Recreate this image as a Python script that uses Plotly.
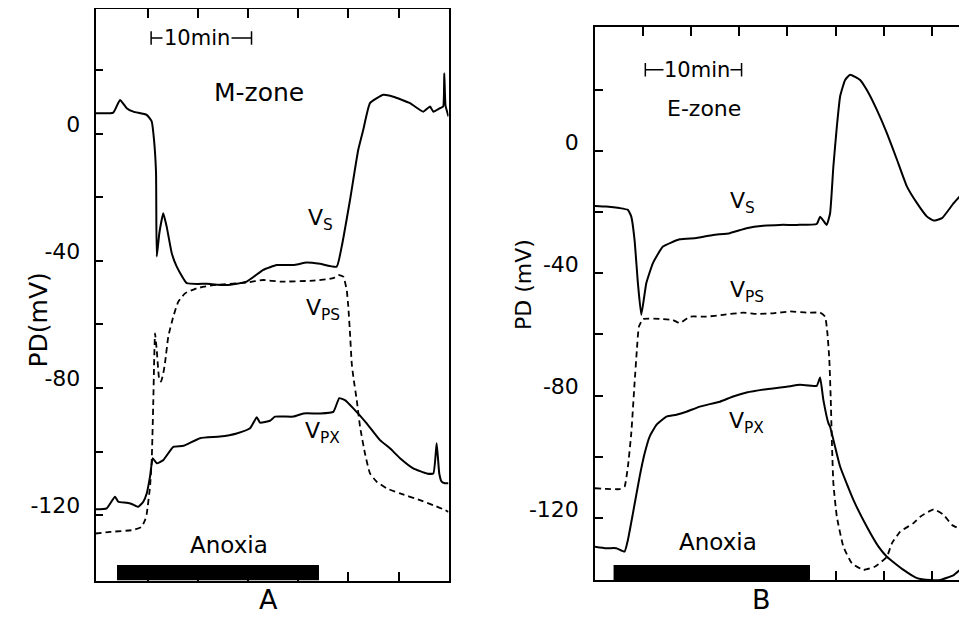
import plotly.graph_objects as go

# ---------------- Panel A (M-zone) ----------------
a_vs_t = [-0.18, 1.59, 2.26, 2.93, 3.59, 4.92, 5.42, 5.65, 5.85, 5.92, 6.18, 6.57, 6.91, 7.41, 7.91, 8.91,
          10.90, 12.89, 14.88, 16.53, 17.87, 19.53, 20.86, 22.19, 23.84, 24.34, 25.17, 25.99, 26.49, 27.16,
          28.49, 29.48, 31.14, 32.47, 33.14, 33.47, 34.13, 34.45, 34.56, 34.68, 34.98]
a_vs_v = [6.5, 6.7, 10.7, 8.1, 7.0, 6.0, 3.9, -1.9, -12.3, -38.6, -31.2, -25.0, -29.2, -37.5, -41.8, -47.0,
          -47.2, -47.6, -46.5, -42.8, -41.3, -41.3, -40.5, -40.9, -41.8, -35.5, -20.8, -5.0, 1.3, 9.7,
          12.3, 11.7, 9.7, 7.0, 8.6, 7.0, 8.1, 8.6, 19.1, 9.0, 5.5]

a_vps_t = [-0.18, 1.26, 3.59, 4.42, 4.75, 4.92, 5.25, 5.42, 5.58, 5.65, 5.75, 5.92, 6.18, 6.34, 6.54, 6.74,
           7.07, 7.57, 8.07, 8.74, 9.90, 11.55, 14.88, 16.53, 18.20, 21.51, 23.51, 24.00, 24.50, 24.84,
           25.00, 25.17, 25.34, 25.50, 25.84, 26.17, 26.66, 27.16, 27.83, 28.82, 30.15, 32.14, 33.47,
           34.63, 34.98]
a_vps_v = [-125.8, -125.3, -124.7, -123.7, -121.6, -119.6, -111.1, -102.7, -83.8, -73.3, -62.8, -68.0,
           -77.5, -78.0, -75.9, -72.2, -63.8, -57.5, -52.8, -50.2, -48.6, -47.6, -46.8, -46.0, -46.5,
           -46.2, -45.4, -44.4, -44.9, -49.1, -54.4, -62.8, -72.2, -76.5, -83.8, -92.2, -100.6, -106.9,
           -109.5, -111.6, -113.2, -115.3, -116.9, -118.4, -119.0]

a_vpx_t = [-0.18, 0.94, 1.76, 2.09, 2.93, 3.43, 4.08, 4.58, 4.92, 5.25, 5.52, 5.92, 6.57, 7.57, 8.57,
           10.23, 12.22, 13.88, 15.21, 15.88, 16.21, 17.20, 17.70, 19.52, 20.52, 22.18, 23.51, 24.10,
           24.67, 25.50, 26.83, 28.16, 29.15, 30.15, 31.47, 32.81, 33.47, 33.80, 34.06, 34.30, 34.63, 34.98]
a_vpx_v = [-118.2, -117.9, -114.2, -115.8, -116.1, -116.5, -117.4, -115.8, -113.2, -107.9, -102.1,
           -103.7, -102.7, -98.5, -98.2, -95.8, -95.3, -94.3, -92.7, -89.2, -90.9, -90.3, -89.0, -89.0,
           -88.0, -88.0, -87.5, -83.2, -83.8, -86.4, -91.1, -96.4, -99.0, -102.1, -105.3, -106.9,
           -106.9, -97.4, -106.9, -109.5, -110.0, -110.0]

a_anoxia = [1.96, 22.08]
a_xrange = [-0.18, 34.98]
a_yrange = [-140.6, 39.4]

# ---------------- Panel B (E-zone) ----------------
b_vs_t = [0, 1.16, 2.55, 3.42, 3.77, 4.11, 4.46, 4.81, 5.33, 6.02, 7.06, 8.80, 10.54, 12.27, 14.01, 15.75,
          17.48, 19.22, 20.96, 23.04, 23.39, 23.73, 24.08, 24.43, 24.77, 25.13, 25.47, 25.99, 26.51, 27.55,
          28.25, 29.29, 30.33, 31.38, 32.42, 33.46, 34.50, 35.19, 36.06, 37.27, 38.5]
b_vs_v = [-18.0, -18.2, -18.7, -19.3, -21.5, -29.1, -43.3, -53.6, -43.3, -36.7, -31.3, -28.9, -28.5,
          -27.5, -26.9, -25.3, -24.5, -24.2, -24.2, -23.9, -21.5, -22.8, -24.2, -20.4, -5.1, 7.9, 17.8,
          23.2, 24.9, 23.2, 19.9, 13.4, 5.8, -2.9, -11.7, -17.1, -21.5, -22.8, -22.0, -17.1, -12.8]

b_vps_t = [0, 1.16, 2.55, 3.07, 3.42, 3.77, 4.11, 4.35, 4.56, 4.98, 6.72, 8.10, 8.80, 9.32, 9.84, 11.58,
           13.31, 15.40, 16.79, 18.52, 20.26, 22.00, 23.39, 23.91, 24.15, 24.35, 24.50, 24.60, 24.77,
           25.13, 25.81, 26.69, 27.90, 29.11, 30.33, 30.85, 31.72, 33.10, 33.80, 35.19, 36.23, 37.10,
           38.15, 38.5]
b_vps_v = [-110.3, -110.5, -110.6, -109.8, -103.2, -92.3, -76.0, -65.1, -57.5, -55.0, -54.9, -55.3,
           -56.3, -55.3, -54.2, -54.2, -53.6, -52.9, -53.3, -53.1, -52.5, -52.9, -52.9, -54.2, -59.6,
           -68.3, -81.4, -93.4, -108.7, -119.6, -129.4, -134.8, -137.0, -135.9, -132.7, -128.3, -124.5,
           -121.7, -119.6, -117.2, -119.0, -122.3, -123.9, -124.5]

b_vpx_t = [0, 1.16, 2.21, 3.07, 3.42, 3.94, 4.64, 5.16, 5.68, 6.38, 7.42, 8.46, 9.50, 10.89, 12.97, 14.35,
           15.75, 17.83, 19.92, 21.30, 23.04, 23.39, 23.73, 24.25, 24.43, 25.47, 26.85, 28.25, 29.46,
           30.33, 32.06, 33.46, 34.84, 35.88, 37.27, 38.31, 38.5]
b_vpx_v = [-129.4, -129.9, -129.9, -131.0, -127.2, -118.5, -106.5, -98.9, -93.4, -89.6, -86.9, -86.3,
           -85.3, -83.6, -82.0, -80.3, -79.0, -77.9, -77.1, -76.5, -76.8, -74.1, -81.4, -89.0, -90.2,
           -103.2, -114.1, -122.9, -129.4, -132.7, -137.0, -139.7, -140.3, -140.3, -138.7, -135.9, -135.0]

b_anoxia = [1.93, 22.34]
b_xrange = [0, 38.5]
b_yrange = [-140.3, 40.5]

# ticks
x_tickvals_a = [5, 10, 15, 20, 25, 30]
x_tickvals_b = [5, 10, 15, 20, 25, 30, 35]
y_tickvals = [20, 0, -20, -40, -60, -80, -100, -120]
y_ticktext = ["", "0", "", "-40", "", "-80", "", "-120"]

FONT = "DejaVu Sans"
W, H, OFF = 967, 632, 8  # page has an 8px body margin


def fx(px):
    return (px - OFF) / W


def fy(py):
    return 1 - (py - OFF) / H


fig = go.Figure()

solid = dict(color="black", width=2, shape="spline", smoothing=0.4)
dashed = dict(color="black", width=1.8, dash="6px,4px", shape="spline", smoothing=0.4)

fig.add_trace(go.Scatter(x=a_vs_t, y=a_vs_v, mode="lines", line=solid, xaxis="x", yaxis="y"))
fig.add_trace(go.Scatter(x=a_vps_t, y=a_vps_v, mode="lines", line=dashed, xaxis="x", yaxis="y"))
fig.add_trace(go.Scatter(x=a_vpx_t, y=a_vpx_v, mode="lines", line=solid, xaxis="x", yaxis="y"))
fig.add_trace(go.Scatter(x=b_vs_t, y=b_vs_v, mode="lines", line=solid, xaxis="x2", yaxis="y2"))
fig.add_trace(go.Scatter(x=b_vps_t, y=b_vps_v, mode="lines", line=dashed, xaxis="x2", yaxis="y2"))
fig.add_trace(go.Scatter(x=b_vpx_t, y=b_vpx_v, mode="lines", line=solid, xaxis="x2", yaxis="y2"))


def xax(domain, rng, tv, anchor):
    return dict(domain=domain, range=rng, tickvals=tv, showticklabels=False, ticks="inside",
                ticklen=9, tickwidth=1.5, tickcolor="black", showline=True, linecolor="black",
                linewidth=1.5, mirror="ticks", showgrid=False, zeroline=False, anchor=anchor)


def yax(domain, rng, anchor, shift, standoff):
    return dict(domain=domain, range=rng, tickvals=y_tickvals, ticktext=y_ticktext, ticks="inside",
                ticklen=8, tickwidth=1.5, tickcolor="black", showline=True, linecolor="black",
                linewidth=1.5, mirror=True, showgrid=False, zeroline=False, anchor=anchor,
                tickfont=dict(family=FONT, size=22, color="black"), ticklabelshift=shift,
                ticklabelstandoff=standoff)


fig.update_layout(
    width=W, height=H, margin=dict(l=0, r=0, t=0, b=0),
    paper_bgcolor="white", plot_bgcolor="white", showlegend=False,
    xaxis=xax([fx(95.5), fx(448.5)], a_xrange, x_tickvals_a, "y"),
    yaxis=yax([fy(580.5), fy(8.75)], a_yrange, "x", -10, 9),
    xaxis2=xax([fx(595), fx(965.5)], b_xrange, x_tickvals_b, "y2"),
    yaxis2=yax([fy(580), fy(27)], b_yrange, "x2", -9, 10),
)

shapes = []
# anoxia bars
shapes.append(dict(type="rect", xref="x", yref="y", x0=a_anoxia[0], x1=a_anoxia[1],
                   y0=a_yrange[0], y1=a_yrange[0] + 4.9, fillcolor="black", line=dict(width=0), layer="above"))
shapes.append(dict(type="rect", xref="x2", yref="y2", x0=b_anoxia[0], x1=b_anoxia[1],
                   y0=b_yrange[0], y1=b_yrange[0] + 4.9, fillcolor="black", line=dict(width=0), layer="above"))


# 10-min scale bars
def scalebar(xr, yr, x0, y0, cap):
    s = [dict(type="line", xref=xr, yref=yr, x0=x0, x1=x0 + 10, y0=y0, y1=y0,
              line=dict(color="black", width=1.5))]
    for xx in (x0, x0 + 10):
        s.append(dict(type="line", xref=xr, yref=yr, x0=xx, x1=xx, y0=y0 - cap, y1=y0 + cap,
                      line=dict(color="black", width=1.5)))
    return s


shapes += scalebar("x", "y", 5.36, 30.2, 2.1)
shapes += scalebar("x2", "y2", 5.23, 26.5, 2.2)
fig.update_layout(shapes=shapes)


def ann(text, x, y, xr, yr, size=21, **kw):
    d = dict(text=text, x=x, y=y, xref=xr, yref=yr, showarrow=False,
             font=dict(family=FONT, size=size, color="black"))
    d.update(kw)
    return d


anns = [
    ann("10min", 9.9, 30.2, "x", "y", size=21, bgcolor="white", borderpad=1),
    ann("10min", 10.6, 26.5, "x2", "y2", size=21, bgcolor="white", borderpad=0),
    ann("M-zone", 16.1, 12.9, "x", "y", size=25),
    ann("E-zone", 11.3, 14.0, "x2", "y2", size=22),
    ann("V<sub>S</sub>", 22.2, -27.1, "x", "y", size=22),
    ann("V<sub>PS</sub>", 22.5, -55.4, "x", "y", size=22),
    ann("V<sub>PX</sub>", 22.4, -93.9, "x", "y", size=22),
    ann("V<sub>S</sub>", 15.3, -17.0, "x2", "y2", size=22),
    ann("V<sub>PS</sub>", 15.8, -46.1, "x2", "y2", size=22),
    ann("V<sub>PX</sub>", 15.7, -88.9, "x2", "y2", size=22),
    ann("Anoxia", 13.1, -129.4, "x", "y", size=23),
    ann("Anoxia", 12.76, -127.9, "x2", "y2", size=23),
    ann("PD(mV)", fx(21), fy(320), "paper", "paper", size=25, textangle=-90),
    ann("PD (mV)", fx(523), fy(285), "paper", "paper", size=22, textangle=-90),
    ann("A", fx(257), fy(617), "paper", "paper", size=27),
    ann("B", fx(773), fy(617), "paper", "paper", size=27),
]
fig.update_layout(annotations=anns)

fig.write_html("out.html")
